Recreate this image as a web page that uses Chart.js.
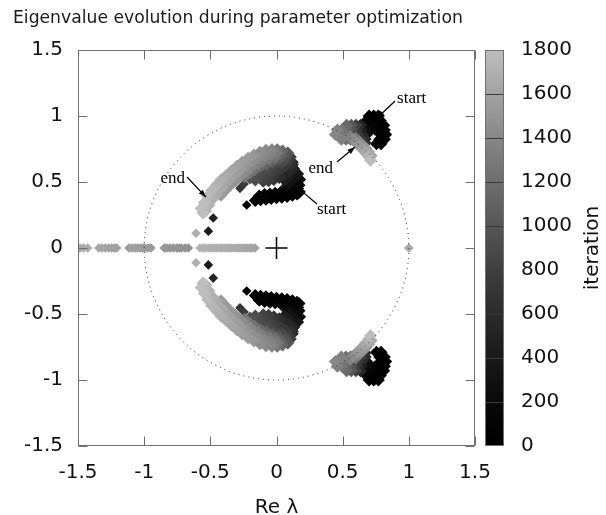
<!DOCTYPE html>
<html>
<head>
<meta charset="utf-8">
<script src="https://cdn.jsdelivr.net/npm/chart.js@4.4.0/dist/chart.umd.min.js"></script>
<style>
  html, body { margin: 0; padding: 0; background: #fff; }
</style>
</head>
<body>
<canvas id="grafico" width="606" height="515"></canvas>
<script>
// eigenvalues with Im >= 0, as [Re, Im, iteration]; the conjugate (Re, -Im) is plotted too
// real eigenvalues [Re, iteration]
const realAxis = [
  [-1.485, 1650], [-1.46, 1640], [-1.427, 1660],
  [-1.342, 1620], [-1.32, 1630], [-1.296, 1600], [-1.27, 1610], [-1.246, 1590], [-1.225, 1600], [-1.208, 1580],
  [-1.115, 1560], [-1.09, 1570], [-1.069, 1550], [-1.05, 1560], [-1.029, 1540], [-1.01, 1550], [-0.994, 1530], [-0.97, 1540], [-0.949, 1520],
  [-0.848, 1500], [-0.83, 1510], [-0.805, 1490], [-0.78, 1500], [-0.754, 1480], [-0.735, 1490], [-0.717, 1470], [-0.69, 1480], [-0.667, 1460],
  [-0.578, 1700], [-0.556, 1710], [-0.535, 1690], [-0.51, 1700], [-0.49, 1680], [-0.47, 1690], [-0.452, 1670], [-0.43, 1680],
  [-0.414, 1660], [-0.395, 1670], [-0.376, 1650], [-0.357, 1660], [-0.339, 1640], [-0.32, 1650], [-0.301, 1630], [-0.28, 1640],
  [-0.263, 1620], [-0.245, 1630], [-0.225, 1610], [-0.205, 1620], [-0.187, 1600], [-0.163, 1590],
  [1.0, 1650]
];

const strayPoints = [
  [-0.276, 0.452, 700], [-0.245, 0.485, 760], [-0.225, 0.326, 100],
  [-0.478, 0.228, 500], [-0.515, 0.128, 420], [-0.608, 0.112, 1700]
];

// the long arc left of the origin
const arcBand = [
  [-0.555, 0.265, 1800], [-0.57, 0.30, 1800], [-0.545, 0.345, 1790], [-0.52, 0.39, 1770], [-0.49, 0.435, 1750],
  [-0.455, 0.475, 1720], [-0.42, 0.515, 1690], [-0.38, 0.55, 1660], [-0.34, 0.585, 1630], [-0.30, 0.62, 1600],
  [-0.26, 0.65, 1570], [-0.215, 0.68, 1540], [-0.17, 0.705, 1500], [-0.125, 0.725, 1460], [-0.08, 0.74, 1420], [-0.035, 0.745, 1380],
  [-0.535, 0.28, 1740], [-0.51, 0.325, 1720], [-0.485, 0.37, 1700], [-0.455, 0.41, 1680], [-0.42, 0.45, 1650],
  [-0.385, 0.49, 1620], [-0.345, 0.525, 1590], [-0.305, 0.56, 1560], [-0.265, 0.595, 1530], [-0.225, 0.625, 1500],
  [-0.18, 0.655, 1460], [-0.135, 0.68, 1420], [-0.09, 0.70, 1380], [-0.045, 0.71, 1340], [0.0, 0.72, 1300],
  [-0.42, 0.40, 1560], [-0.385, 0.44, 1540], [-0.35, 0.475, 1510], [-0.31, 0.51, 1480], [-0.27, 0.545, 1450],
  [-0.23, 0.58, 1420], [-0.19, 0.61, 1380], [-0.145, 0.635, 1340], [-0.10, 0.66, 1300], [-0.055, 0.675, 1260], [-0.01, 0.685, 1220],
  [-0.24, 0.54, 1300], [-0.20, 0.57, 1250], [-0.16, 0.595, 1200], [-0.12, 0.62, 1150], [-0.075, 0.635, 1100], [-0.03, 0.65, 1050], [0.015, 0.67, 1000]
];

// dark blob right of the arc (early iterations)
const arcCore = [
  [-0.20, 0.53, 950], [-0.16, 0.555, 930], [-0.12, 0.58, 900], [-0.08, 0.595, 880], [-0.04, 0.61, 860], [0.0, 0.625, 840], [0.04, 0.645, 820], [0.08, 0.67, 780],
  [-0.12, 0.54, 860], [-0.08, 0.555, 840], [-0.04, 0.565, 800], [0.0, 0.58, 760], [0.04, 0.60, 720], [0.08, 0.625, 680], [0.12, 0.65, 640],
  [-0.16, 0.515, 900], [-0.10, 0.505, 820], [-0.06, 0.51, 780], [-0.02, 0.52, 700],
  [0.005, 0.745, 1250], [0.045, 0.735, 1150], [0.085, 0.72, 1000], [0.03, 0.70, 1100], [0.07, 0.69, 950], [0.105, 0.69, 800],
  [0.05, 0.66, 900], [0.09, 0.655, 750], [0.12, 0.63, 600],
  [0.13, 0.60, 500], [0.16, 0.56, 350], [0.10, 0.58, 560], [0.14, 0.53, 300], [0.06, 0.555, 550], [0.10, 0.54, 400],
  [0.175, 0.52, 150], [0.02, 0.535, 620], [0.06, 0.515, 450], [0.10, 0.50, 300], [0.14, 0.49, 180], [0.17, 0.475, 80],
  [0.08, 0.47, 250], [0.12, 0.465, 120], [0.16, 0.45, 60],
  [-0.16, 0.36, 60], [-0.12, 0.365, 50], [-0.08, 0.37, 45], [-0.04, 0.375, 40], [0.0, 0.38, 30], [0.04, 0.385, 25],
  [0.08, 0.39, 20], [0.12, 0.40, 15], [0.155, 0.41, 10], [-0.13, 0.395, 90], [-0.09, 0.405, 80], [-0.05, 0.41, 70],
  [-0.01, 0.415, 60], [0.03, 0.42, 50], [0.07, 0.43, 40], [0.11, 0.435, 30], [0.17, 0.42, 5]
];

// cluster near the unit circle, upper right
const cornerCluster = [
  [0.70, 1.00, 40], [0.735, 1.00, 30], [0.77, 1.00, 20],
  [0.68, 0.965, 90], [0.715, 0.965, 60], [0.75, 0.965, 40], [0.785, 0.965, 15],
  [0.67, 0.93, 180], [0.705, 0.93, 120], [0.74, 0.93, 70], [0.775, 0.93, 30], [0.81, 0.93, 10],
  [0.675, 0.895, 230], [0.71, 0.895, 160], [0.745, 0.90, 60], [0.78, 0.895, 40], [0.815, 0.895, 15],
  [0.68, 0.86, 260], [0.79, 0.86, 50], [0.825, 0.86, 10],
  [0.78, 0.825, 60], [0.815, 0.825, 20], [0.755, 0.79, 90], [0.79, 0.79, 40],
  [0.53, 0.93, 1150], [0.565, 0.93, 1000], [0.60, 0.93, 800], [0.635, 0.93, 550],
  [0.46, 0.895, 1350], [0.495, 0.895, 1250], [0.53, 0.895, 1100], [0.565, 0.895, 950], [0.60, 0.895, 750], [0.64, 0.895, 450],
  [0.445, 0.86, 1400], [0.48, 0.86, 1300], [0.515, 0.86, 1150], [0.55, 0.86, 1050], [0.585, 0.86, 850], [0.62, 0.86, 650], [0.65, 0.86, 500],
  [0.49, 0.825, 1350], [0.525, 0.825, 1200], [0.56, 0.825, 1100], [0.60, 0.825, 950], [0.635, 0.825, 750], [0.67, 0.825, 600],
  [0.635, 0.79, 800], [0.67, 0.795, 650],
  [0.555, 0.845, 1350], [0.58, 0.82, 1420], [0.605, 0.795, 1480], [0.63, 0.77, 1540], [0.655, 0.745, 1600],
  [0.675, 0.72, 1660], [0.695, 0.695, 1720], [0.71, 0.665, 1790],
  [0.60, 0.83, 1320], [0.625, 0.805, 1380], [0.65, 0.78, 1440], [0.675, 0.755, 1500], [0.695, 0.73, 1560], [0.715, 0.70, 1640]
];

const axisTickLabels = ['-1.5', '-1', '-0.5', '0', '0.5', '1', '1.5'];
const cbTickLabels = ['0', '200', '400', '600', '800', '1000', '1200', '1400', '1600', '1800'];
const cbMax = 1800;

// annotation arrows, in data coordinates
const notes = [
  { text: 'start', tx: 0.911, ty: 1.129, align: 'left', from: [0.896, 1.114], to: [0.760, 0.985] },
  { text: 'end', tx: 0.427, ty: 0.606, align: 'right', from: [0.457, 0.652], to: [0.593, 0.765] },
  { text: 'start', tx: 0.306, ty: 0.288, align: 'left', from: [0.306, 0.333], to: [0.165, 0.452] },
  { text: 'end', tx: -0.692, ty: 0.53, align: 'right', from: [-0.676, 0.538], to: [-0.533, 0.386] }
];

function grayFor(it) {
  const t = Math.min(Math.max(it / cbMax, 0), 1);
  const g = Math.round(190 * Math.pow(t, 1.35));
  return 'rgb(' + g + ',' + g + ',' + g + ')';
}

const pontos = [];
function addPoint(re, im, it, blob) {
  pontos.push({ x: re, y: im, it: it, blob: blob });
  if (im !== 0) pontos.push({ x: re, y: -im, it: it, blob: blob });
}
realAxis.forEach(p => addPoint(p[0], 0, p[1], false));
strayPoints.forEach(p => addPoint(p[0], p[1], p[2], false));
[arcBand, arcCore, cornerCluster].forEach(lista => lista.forEach(p => addPoint(p[0], p[1], p[2], true)));
pontos.sort((a, b) => a.it - b.it);

const fonte = 'DejaVu Sans';

const decor = {
  id: 'decor',
  afterDatasetsDraw(chart) {
    const { ctx, chartArea: a, scales } = chart;
    const sx = scales.x, sy = scales.y, cb = scales.cb;
    ctx.save();

    // unit circle
    const cx = sx.getPixelForValue(0), cy = sy.getPixelForValue(0);
    ctx.strokeStyle = '#222';
    ctx.lineWidth = 1;
    ctx.setLineDash([1, 4]);
    ctx.beginPath();
    ctx.ellipse(cx, cy, sx.getPixelForValue(1) - cx, cy - sy.getPixelForValue(1), 0, 0, Math.PI * 2);
    ctx.stroke();
    ctx.setLineDash([]);

    // frame + inward ticks (gnuplot style)
    const L = Math.round(a.left) + 0.5, R = Math.round(a.right) - 0.5;
    const T = Math.round(a.top) + 0.5, B = Math.round(a.bottom) - 0.5;
    ctx.strokeStyle = '#707070';
    ctx.strokeRect(L, T, R - L, B - T);
    ctx.beginPath();
    sx.ticks.forEach(t => {
      const p = Math.round(sx.getPixelForValue(t.value)) + 0.5;
      ctx.moveTo(p, B); ctx.lineTo(p, B - 9);
      ctx.moveTo(p, T); ctx.lineTo(p, T + 9);
    });
    sy.ticks.forEach(t => {
      const p = Math.round(sy.getPixelForValue(t.value)) + 0.5;
      ctx.moveTo(L, p); ctx.lineTo(L + 9, p);
      ctx.moveTo(R, p); ctx.lineTo(R - 9, p);
    });
    ctx.stroke();

    // colour bar
    const bx = Math.round(a.right) + 10, bw = 19;
    const top = Math.round(cb.getPixelForValue(cbMax)), bot = Math.round(cb.getPixelForValue(0));
    for (let py = top; py < bot; py++) {
      ctx.fillStyle = grayFor(cb.getValueForPixel(py + 0.5));
      ctx.fillRect(bx, py, bw, 1);
    }
    ctx.strokeStyle = '#3a3a3a';
    ctx.beginPath();
    cb.ticks.forEach(t => {
      if (t.value <= 0 || t.value >= cbMax) return;
      const p = Math.round(cb.getPixelForValue(t.value)) + 0.5;
      ctx.moveTo(bx, p); ctx.lineTo(bx + bw, p);
    });
    ctx.stroke();
    ctx.strokeStyle = '#707070';
    ctx.strokeRect(bx + 0.5, top + 0.5, bw - 1, bot - top - 1);

    // colour bar label
    ctx.save();
    ctx.translate(593, (top + bot) / 2);
    ctx.rotate(-Math.PI / 2);
    ctx.fillStyle = '#111';
    ctx.font = '20px "' + fonte + '"';
    ctx.textAlign = 'center';
    ctx.textBaseline = 'middle';
    ctx.fillText('iteration', 0, 0);
    ctx.restore();

    // start / end arrows
    ctx.strokeStyle = '#000';
    ctx.fillStyle = '#000';
    ctx.lineWidth = 1.2;
    ctx.font = '17px "Liberation Serif"';
    ctx.textBaseline = 'middle';
    notes.forEach(n => {
      const x0 = sx.getPixelForValue(n.from[0]), y0 = sy.getPixelForValue(n.from[1]);
      const x1 = sx.getPixelForValue(n.to[0]), y1 = sy.getPixelForValue(n.to[1]);
      ctx.beginPath(); ctx.moveTo(x0, y0); ctx.lineTo(x1, y1); ctx.stroke();
      const ang = Math.atan2(y1 - y0, x1 - x0), len = 8, w = 0.35;
      ctx.beginPath();
      ctx.moveTo(x1, y1);
      ctx.lineTo(x1 - len * Math.cos(ang - w), y1 - len * Math.sin(ang - w));
      ctx.lineTo(x1 - len * Math.cos(ang + w), y1 - len * Math.sin(ang + w));
      ctx.closePath(); ctx.fill();
      ctx.textAlign = n.align;
      ctx.fillText(n.text, sx.getPixelForValue(n.tx), sy.getPixelForValue(n.ty));
    });
    ctx.restore();
  }
};

const ctx = document.getElementById('grafico').getContext('2d');
new Chart(ctx, {
  type: 'scatter',
  data: {
    datasets: [
      {
        label: 'origin',
        data: [{ x: 0, y: 0 }],
        pointStyle: 'cross',
        pointRadius: 11,
        borderColor: '#000',
        pointBorderWidth: 1.5
      },
      {
        label: 'eigenvalues',
        data: pontos,
        pointStyle: 'rectRot',
        pointRadius: c => (c.raw && c.raw.blob ? 6.5 : 4.8),
        pointBorderWidth: 0,
        pointBackgroundColor: pontos.map(p => grayFor(p.it))
      }
    ]
  },
  options: {
    responsive: false,
    devicePixelRatio: 1,
    animation: false,
    events: [],
    layout: { padding: { left: 13, right: 0, top: 0, bottom: 0 } },
    plugins: {
      legend: { display: false },
      tooltip: { enabled: false },
      title: {
        display: true,
        text: 'Eigenvalue evolution during parameter optimization',
        align: 'start',
        color: '#1a1a1a',
        font: { family: fonte, size: 17.2, weight: 'normal' },
        padding: { top: 8, bottom: 21.4 }
      }
    },
    scales: {
      x: {
        type: 'linear', min: -1.5, max: 1.5,
        grid: { display: false, drawTicks: false },
        border: { display: false },
        ticks: { stepSize: 0.5, padding: 15, color: '#111', font: { family: fonte, size: 20 },
          callback: (v, i) => axisTickLabels[i] },
        title: { display: true, text: 'Re λ', color: '#111', font: { family: fonte, size: 20, lineHeight: 0.7 }, padding: { top: 0, bottom: 0 } },
        afterFit: s => { s.height = 69; }
      },
      y: {
        type: 'linear', min: -1.5, max: 1.5, position: 'left',
        grid: { display: false, drawTicks: false },
        border: { display: false },
        ticks: { stepSize: 0.5, padding: 15, color: '#111', font: { family: fonte, size: 20 },
          callback: (v, i) => axisTickLabels[i] },
        afterFit: s => { s.width = 65; }
      },
      cb: {
        type: 'linear', min: 0, max: cbMax, position: 'right',
        // tick marks are hidden; their length only reserves the gap before the labels
        grid: { display: false, drawTicks: true, tickLength: 44 },
        border: { display: false },
        ticks: { stepSize: 200, padding: 2, color: '#111', font: { family: fonte, size: 20 },
          callback: (v, i) => cbTickLabels[i] },
        afterFit: s => { s.width = 131; }
      }
    }
  },
  plugins: [decor]
});
</script>
</body>
</html>
